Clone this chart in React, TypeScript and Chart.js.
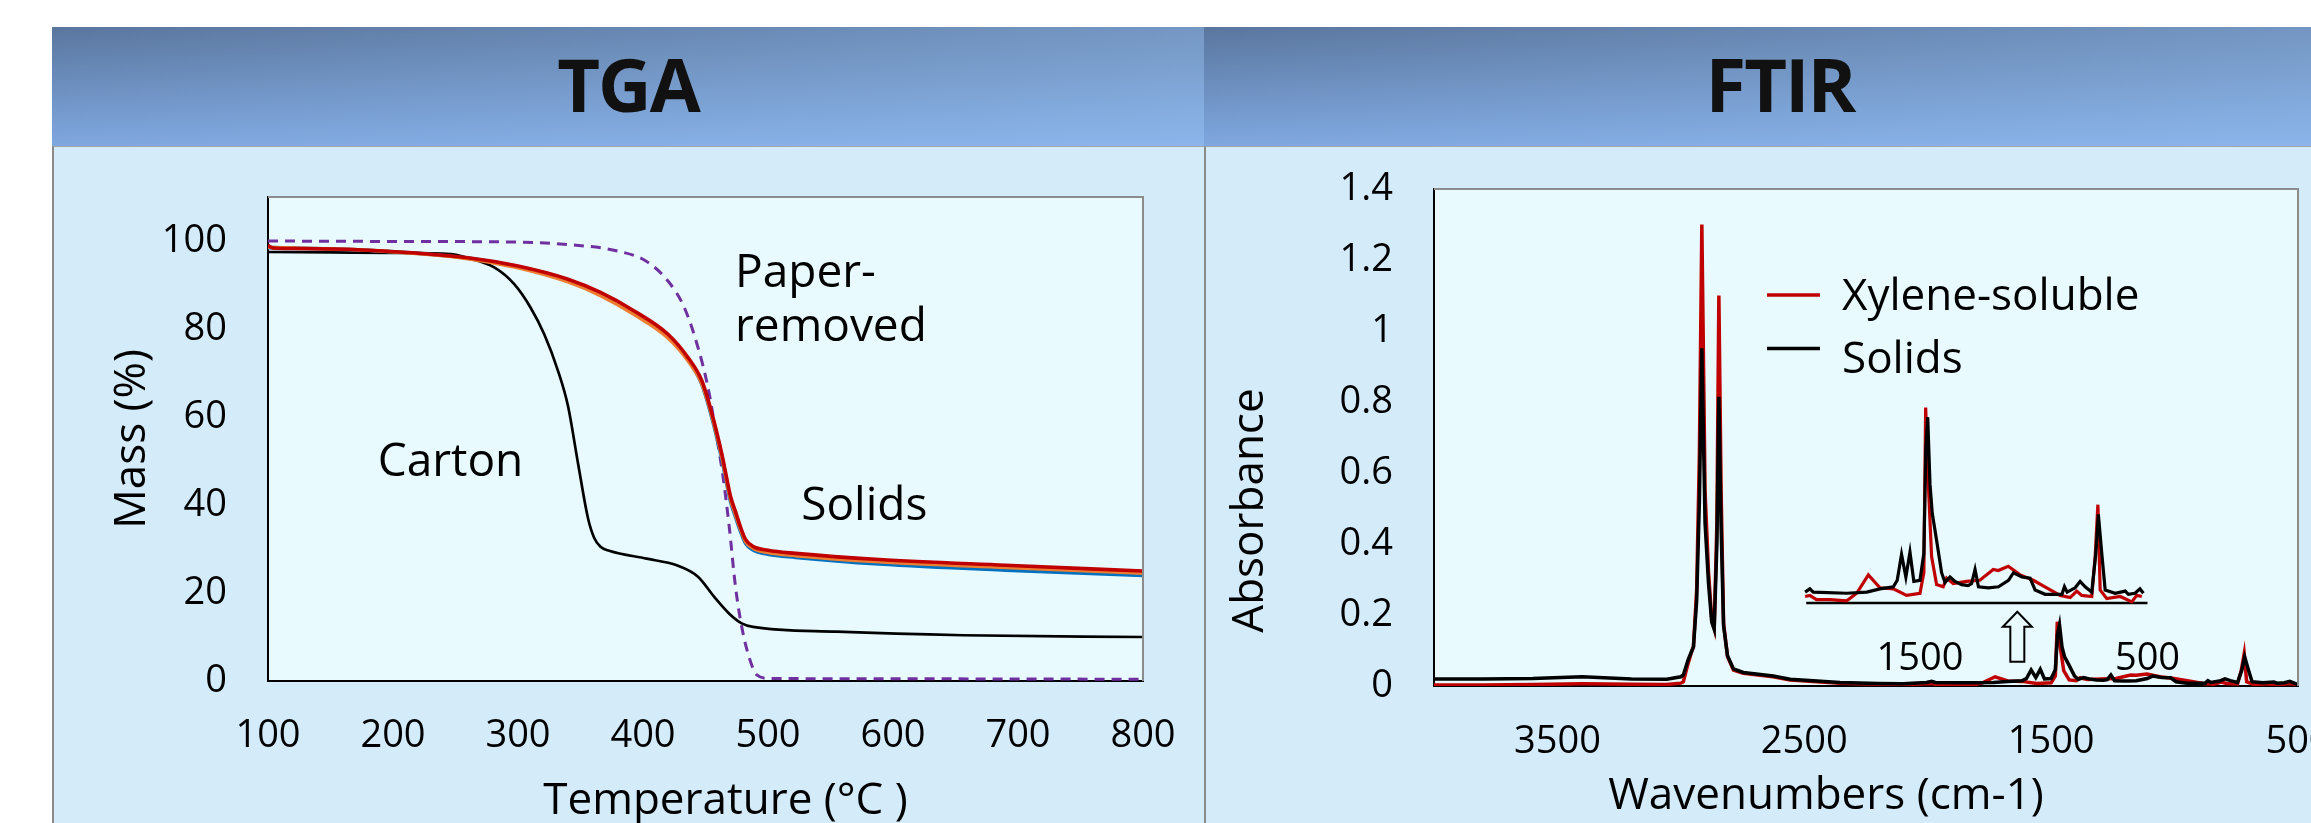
import React, { useEffect, useRef } from "react";
import { Chart, registerables } from "chart.js";

Chart.register(...registerables);

const FONT = "'Open Sans', 'Noto Sans', 'DejaVu Sans', sans-serif";
const PLOT_BG = "#e8fafe";
const FRAME_GREY = "#8c8c8c";

// ---------------- TGA data ----------------
const tgaXTicks = [100, 200, 300, 400, 500, 600, 700, 800];
const tgaYTicks = [0, 20, 40, 60, 80, 100];

const cartonTemp = [100, 150, 200, 246, 260, 281, 297, 310, 321, 332, 340, 348, 356, 361, 366, 373, 403, 427, 444, 457, 469, 479, 488, 555, 656, 800];
const cartonMass = [97.5, 97.4, 97.3, 97.0, 96.1, 94.0, 90.2, 84.9, 78.8, 70.5, 62.5, 49.5, 37.0, 32.5, 30.5, 29.6, 27.8, 26.3, 23.7, 19.1, 15.3, 13.1, 12.3, 11.2, 10.4, 10.0];

const paperTemp = [100, 200, 286, 340, 380, 402, 420, 433, 444, 452, 458, 464, 469, 474, 479, 485, 491, 501, 600, 800];
const paperMass = [100.0, 99.9, 99.8, 99.2, 97.7, 95.5, 90.9, 84.9, 75.8, 66.7, 57.0, 46.5, 35.0, 21.4, 12.3, 5.3, 1.4, 0.6, 0.5, 0.4];

const solidsTemp = [100, 104, 120, 180, 260, 300, 340, 366, 393, 420, 436, 447, 454, 463, 470, 474, 478, 482, 488, 500, 522, 589, 690, 800];
const solidsRedMass = [99.0, 98.4, 98.3, 97.9, 96.2, 94.3, 91.3, 88.3, 84.1, 78.8, 73.5, 68.3, 62.0, 51.7, 42.0, 38.5, 35.0, 32.2, 30.6, 29.7, 29.0, 27.6, 26.3, 25.0];
const solidsOrangeMass = [98.6, 98.5, 98.4, 97.9, 96.0, 93.9, 90.7, 87.6, 83.3, 78.0, 72.8, 67.6, 61.4, 51.0, 41.3, 37.8, 34.5, 31.7, 30.2, 29.2, 28.5, 27.1, 25.8, 24.5];
const solidsBlueMass = [98.5, 98.5, 98.4, 97.9, 96.1, 94.1, 91.0, 88.0, 83.7, 78.3, 73.0, 67.5, 61.0, 50.5, 40.8, 37.3, 34.0, 31.3, 29.8, 28.8, 28.1, 26.6, 25.2, 24.0];

// ---------------- FTIR data ----------------
const ftirXTicks = [3500, 2500, 1500, 500];
const ftirYTicks = [0, 0.2, 0.4, 0.6, 0.8, 1, 1.2, 1.4];
const insetTicks = [1500, 500];
const seriesNames = ["Xylene-soluble", "Solids"];

const xyleneWn = [4000, 3800, 3600, 3400, 3200, 3060, 3000, 2990, 2970, 2955, 2949, 2936, 2925, 2915, 2902, 2888, 2875, 2865, 2854, 2846, 2837, 2827, 2811, 2787, 2747, 2626, 2557, 2355, 2200, 2100, 2005, 1984, 1955, 1896, 1822, 1778, 1727, 1676, 1617, 1559, 1500, 1483, 1475, 1464, 1449, 1427, 1398, 1383, 1354, 1295, 1237, 1178, 1156, 1112, 1060, 1002, 943, 884, 840, 811, 789, 745, 730, 718, 708, 679, 620, 569, 547, 525, 500];
const xyleneAbs = [0.003, 0.003, 0.004, 0.006, 0.005, 0.004, 0.008, 0.012, 0.065, 0.10, 0.11, 0.27, 0.65, 1.30, 0.55, 0.32, 0.19, 0.163, 0.46, 1.10, 0.55, 0.177, 0.083, 0.045, 0.036, 0.026, 0.017, 0.008, 0.005, 0.004, 0.006, 0.007, 0.003, 0.003, 0.002, 0.009, 0.026, 0.014, 0.013, 0.007, 0.009, 0.028, 0.181, 0.114, 0.043, 0.017, 0.015, 0.023, 0.018, 0.020, 0.021, 0.031, 0.030, 0.034, 0.026, 0.021, 0.014, 0.007, 0.005, 0.011, 0.007, 0.006, 0.043, 0.091, 0.012, 0.004, 0.006, 0.001, 0.007, 0.006, 0.003];

const solidsWn = [4000, 3800, 3600, 3400, 3200, 3057, 3000, 2990, 2970, 2955, 2949, 2936, 2925, 2915, 2902, 2888, 2875, 2865, 2854, 2846, 2837, 2827, 2811, 2787, 2747, 2626, 2557, 2355, 2200, 2100, 2005, 1984, 1969, 1822, 1734, 1676, 1617, 1600, 1581, 1562, 1544, 1527, 1500, 1483, 1474, 1466, 1456, 1446, 1427, 1405, 1390, 1368, 1346, 1317, 1288, 1273, 1258, 1243, 1199, 1155, 1111, 1089, 1052, 1016, 994, 950, 876, 865, 853, 818, 796, 774, 745, 727, 716, 701, 686, 642, 598, 584, 555, 533, 518, 500];
const solidsAbs = [0.020, 0.020, 0.021, 0.026, 0.020, 0.019, 0.026, 0.031, 0.075, 0.10, 0.11, 0.24, 0.52, 0.951, 0.46, 0.29, 0.18, 0.160, 0.40, 0.815, 0.45, 0.17, 0.085, 0.048, 0.038, 0.028, 0.019, 0.010, 0.007, 0.006, 0.010, 0.013, 0.010, 0.009, 0.010, 0.013, 0.015, 0.021, 0.045, 0.024, 0.047, 0.020, 0.021, 0.046, 0.145, 0.172, 0.11, 0.083, 0.058, 0.028, 0.019, 0.024, 0.020, 0.017, 0.016, 0.018, 0.031, 0.015, 0.014, 0.015, 0.021, 0.028, 0.024, 0.023, 0.012, 0.008, 0.008, 0.015, 0.010, 0.014, 0.020, 0.015, 0.010, 0.046, 0.082, 0.046, 0.012, 0.009, 0.011, 0.008, 0.009, 0.013, 0.009, 0.004];

// inset window (wavenumber range that is magnified)
const INSET_HIGH = 2005;
const INSET_LOW = 518;

const pts = (xs: number[], ys: number[]) => xs.map((x, i) => ({ x, y: ys[i] }));
const insetPts = (xs: number[], ys: number[]) =>
  pts(xs, ys).filter((p) => p.x <= INSET_HIGH && p.x >= INSET_LOW);

function fillArea(chart: any) {
  const { ctx, chartArea: a } = chart;
  ctx.save();
  ctx.fillStyle = PLOT_BG;
  ctx.fillRect(a.left, a.top, a.right - a.left, a.bottom - a.top);
  ctx.restore();
}
function frameTopRight(chart: any) {
  const { ctx, chartArea: a } = chart;
  ctx.save();
  ctx.strokeStyle = FRAME_GREY;
  ctx.lineWidth = 2;
  ctx.beginPath();
  ctx.moveTo(a.left, a.top);
  ctx.lineTo(a.right, a.top);
  ctx.lineTo(a.right, a.bottom);
  ctx.stroke();
  ctx.restore();
}
function drawText(ctx: CanvasRenderingContext2D, s: string, x: number, y: number, size: number, align: CanvasTextAlign = "center", rot = 0) {
  ctx.save();
  ctx.font = `${size}px ${FONT}`;
  ctx.fillStyle = "#000";
  ctx.textAlign = align;
  ctx.textBaseline = "alphabetic";
  ctx.translate(x, y);
  if (rot) ctx.rotate(rot);
  ctx.fillText(s, 0, 0);
  ctx.restore();
}

const tickFont = { size: 38, family: FONT };
const plainNum = (v: any) => String(Math.round(Number(v) * 10) / 10);
const noPad = (s: any) => {
  s.paddingTop = 0;
  s.paddingBottom = 0;
  s.paddingLeft = 0;
  s.paddingRight = 0;
};

function tgaConfig(): any {
  const line = (label: string, data: any, color: string, width: number, extra: any = {}) => ({
    label, data, borderColor: color, backgroundColor: color, borderWidth: width,
    pointRadius: 0, fill: false, cubicInterpolationMode: "monotone", ...extra,
  });
  return {
    type: "line",
    data: {
      datasets: [
        line("Solids 1", pts(solidsTemp, solidsRedMass), "#c00000", 3.6),
        line("Solids 2", pts(solidsTemp, solidsOrangeMass), "#ed7d31", 3.6),
        line("Solids 3", pts(solidsTemp, solidsBlueMass), "#0070c0", 3.6),
        line("Carton", pts(cartonTemp, cartonMass), "#000000", 2.7),
        line("Paper-removed", pts(paperTemp, paperMass), "#7030a0", 3, { borderDash: [10, 7] }),
      ],
    },
    options: {
      animation: false,
      responsive: false,
      events: [],
      layout: { padding: { left: 0, top: 49, right: 59, bottom: 62 } },
      plugins: { legend: { display: false }, tooltip: { enabled: false } },
      scales: {
        x: {
          type: "linear", min: 100, max: 800,
          grid: { display: false, drawTicks: false },
          border: { color: "#000", width: 2 },
          ticks: { color: "#000", font: tickFont, padding: 32, callback: plainNum, maxRotation: 0 },
          afterBuildTicks: (s: any) => { s.ticks = tgaXTicks.map((v) => ({ value: v })); },
          afterFit: (s: any) => { s.height = 80; noPad(s); },
        },
        y: {
          type: "linear", min: 0, max: 110,
          grid: { display: false, drawTicks: false },
          border: { color: "#000", width: 2 },
          ticks: { color: "#000", font: tickFont, padding: 41, callback: plainNum },
          afterBuildTicks: (s: any) => { s.ticks = tgaYTicks.map((v) => ({ value: v })); },
          afterFit: (s: any) => { s.width = 214; noPad(s); },
        },
      },
    },
    plugins: [
      {
        id: "tgaDecor",
        beforeDraw: (chart: any) => fillArea(chart),
        afterDraw: (chart: any) => {
          const { ctx, chartArea: a } = chart;
          const xs = chart.scales.x, ys = chart.scales.y;
          frameTopRight(chart);
          drawText(ctx, "Carton", xs.getPixelForValue(246), ys.getPixelForValue(46.7), 46);
          drawText(ctx, "Paper-", xs.getPixelForValue(473.6), ys.getPixelForValue(89.6), 46, "left");
          drawText(ctx, "removed", xs.getPixelForValue(473.6), ys.getPixelForValue(77.3), 46, "left");
          drawText(ctx, "Solids", xs.getPixelForValue(577), ys.getPixelForValue(36.7), 46);
          drawText(ctx, "Temperature (°C )", (a.left + a.right) / 2 + 20, a.bottom + 133, 44);
          drawText(ctx, "Mass (%)", a.left - 123, (a.top + a.bottom) / 2, 44, "center", -Math.PI / 2);
        },
      },
    ],
  };
}

function ftirConfig(): any {
  const line = (label: string, data: any, color: string, width: number, extra: any = {}) => ({
    label, data, borderColor: color, backgroundColor: color, borderWidth: width,
    pointRadius: 0, fill: false, tension: 0, ...extra,
  });
  return {
    type: "line",
    data: {
      datasets: [
        line(seriesNames[1], pts(solidsWn, solidsAbs), "#000000", 3.5, { legend: true }),
        line(seriesNames[0], pts(xyleneWn, xyleneAbs), "#c00000", 3.5, { legend: true }),
        line("inset " + seriesNames[1], insetPts(solidsWn, solidsAbs), "#000000", 3.2, { xAxisID: "xi", yAxisID: "yi" }),
        line("inset " + seriesNames[0], insetPts(xyleneWn, xyleneAbs), "#c00000", 3.2, { xAxisID: "xi", yAxisID: "yi" }),
        line("inset axis", [{ x: 2000, y: 0 }, { x: 500, y: 0 }], "#000000", 2.5, { xAxisID: "xi", yAxisID: "yi" }),
      ],
    },
    options: {
      animation: false,
      responsive: false,
      events: [],
      layout: { padding: { left: 0, top: 41, right: 159, bottom: 57 } },
      plugins: { legend: { display: false }, tooltip: { enabled: false } },
      scales: {
        x: {
          type: "linear", min: 500, max: 4000, reverse: true,
          grid: { display: false, drawTicks: false },
          border: { color: "#000", width: 2 },
          ticks: { color: "#000", font: tickFont, padding: 33, callback: plainNum, maxRotation: 0 },
          afterBuildTicks: (s: any) => { s.ticks = ftirXTicks.map((v) => ({ value: v })); },
          afterFit: (s: any) => { s.height = 80; noPad(s); },
        },
        y: {
          type: "linear", min: 0, max: 1.4,
          grid: { display: false, drawTicks: false },
          border: { color: "#000", width: 2 },
          ticks: { color: "#000", font: tickFont, padding: 41, callback: plainNum },
          afterBuildTicks: (s: any) => { s.ticks = ftirYTicks.map((v) => ({ value: v })); },
          afterFit: (s: any) => { s.width = 227; noPad(s); },
        },
        xi: { type: "linear", display: false, reverse: true, min: -161.5, max: 3636 },
        yi: { type: "linear", display: false, min: -0.0769, max: 0.3833 },
      },
    },
    plugins: [
      {
        id: "ftirDecor",
        beforeDraw: (chart: any) => fillArea(chart),
        afterDraw: (chart: any) => {
          const { ctx, chartArea: a } = chart;
          const xs = chart.scales.x, ys = chart.scales.y;
          const xi = chart.scales.xi, yi = chart.scales.yi;
          frameTopRight(chart);

          // legend
          const entries = chart.data.datasets.filter((d: any) => d.legend).reverse();
          const lineY = [a.top + 106, a.top + 159.5];
          const textY = [a.top + 121, a.top + 184];
          entries.forEach((d: any, i: number) => {
            ctx.save();
            ctx.strokeStyle = d.borderColor;
            ctx.lineWidth = 3.5;
            ctx.beginPath();
            ctx.moveTo(a.left + 333, lineY[i]);
            ctx.lineTo(a.left + 386, lineY[i]);
            ctx.stroke();
            ctx.restore();
            drawText(ctx, d.label, a.left + 408, textY[i], 44, "left");
          });

          // inset axis labels
          insetTicks.forEach((v) => {
            drawText(ctx, String(v), xi.getPixelForValue(v), yi.getPixelForValue(-0.062), 38);
          });

          // hollow up-arrow pointing at the inset
          const cx = xs.getPixelForValue(1637);
          const tip = ys.getPixelForValue(0.209);
          const base = ys.getPixelForValue(0.167);
          const bot = ys.getPixelForValue(0.068);
          ctx.save();
          ctx.beginPath();
          ctx.moveTo(cx, tip);
          ctx.lineTo(cx + 14.5, base);
          ctx.lineTo(cx + 7, base);
          ctx.lineTo(cx + 7, bot);
          ctx.lineTo(cx - 7, bot);
          ctx.lineTo(cx - 7, base);
          ctx.lineTo(cx - 14.5, base);
          ctx.closePath();
          ctx.fillStyle = PLOT_BG;
          ctx.fill();
          ctx.lineWidth = 2;
          ctx.strokeStyle = "#000";
          ctx.stroke();
          ctx.restore();

          // axis titles
          drawText(ctx, "Wavenumbers (cm-1)", (a.left + a.right) / 2 - 40, a.bottom + 123, 44);
          drawText(ctx, "Absorbance", a.left - 171, (a.top + a.bottom) / 2 + 73, 44, "center", -Math.PI / 2);
        },
      },
    ],
  };
}

function ChartCanvas({ make, left, top, width, height }: any) {
  const ref = useRef<HTMLCanvasElement | null>(null);
  useEffect(() => {
    if (!ref.current) return;
    const chart = new Chart(ref.current, make());
    return () => chart.destroy();
  }, []);
  return (
    <canvas
      ref={ref}
      width={width}
      height={height}
      style={{ position: "absolute", left, top, width, height, display: "block" }}
    />
  );
}

const headerBg =
  "linear-gradient(to right, rgba(160,205,255,0) 0%, rgba(160,205,255,0.38) 100%), linear-gradient(to bottom, #5a769e 0%, #7fa8e0 100%)";

function Panel({ left, title }: { left: number; title: string }) {
  return (
    <>
      <div style={{ position: "absolute", left, top: 27, width: 1152, height: 119, background: headerBg }} />
      <div
        style={{
          position: "absolute", left, top: 146, width: 1152, height: 677,
          background: "#d4ebfa", borderTop: "1px solid #a6a6a6", borderLeft: "2px solid #8a8a8a",
          boxSizing: "border-box",
        }}
      />
      <div
        style={{
          position: "absolute", left, top: 47, width: 1152, textAlign: "center",
          font: `700 74px ${FONT}`, lineHeight: "74px", letterSpacing: "-2px", color: "#111",
        }}
      >
        {title}
      </div>
    </>
  );
}

export default function App() {
  return (
    <div style={{ position: "relative", width: 2311, height: 823, overflow: "hidden", background: "#fff" }}>
      <style>{`body{margin:0;overflow:hidden}`}</style>
      <Panel left={52} title="TGA" />
      <Panel left={1204} title="FTIR" />
      <ChartCanvas make={tgaConfig} left={54} top={148} width={1148} height={675} />
      <ChartCanvas make={ftirConfig} left={1207} top={148} width={1250} height={675} />
    </div>
  );
}
